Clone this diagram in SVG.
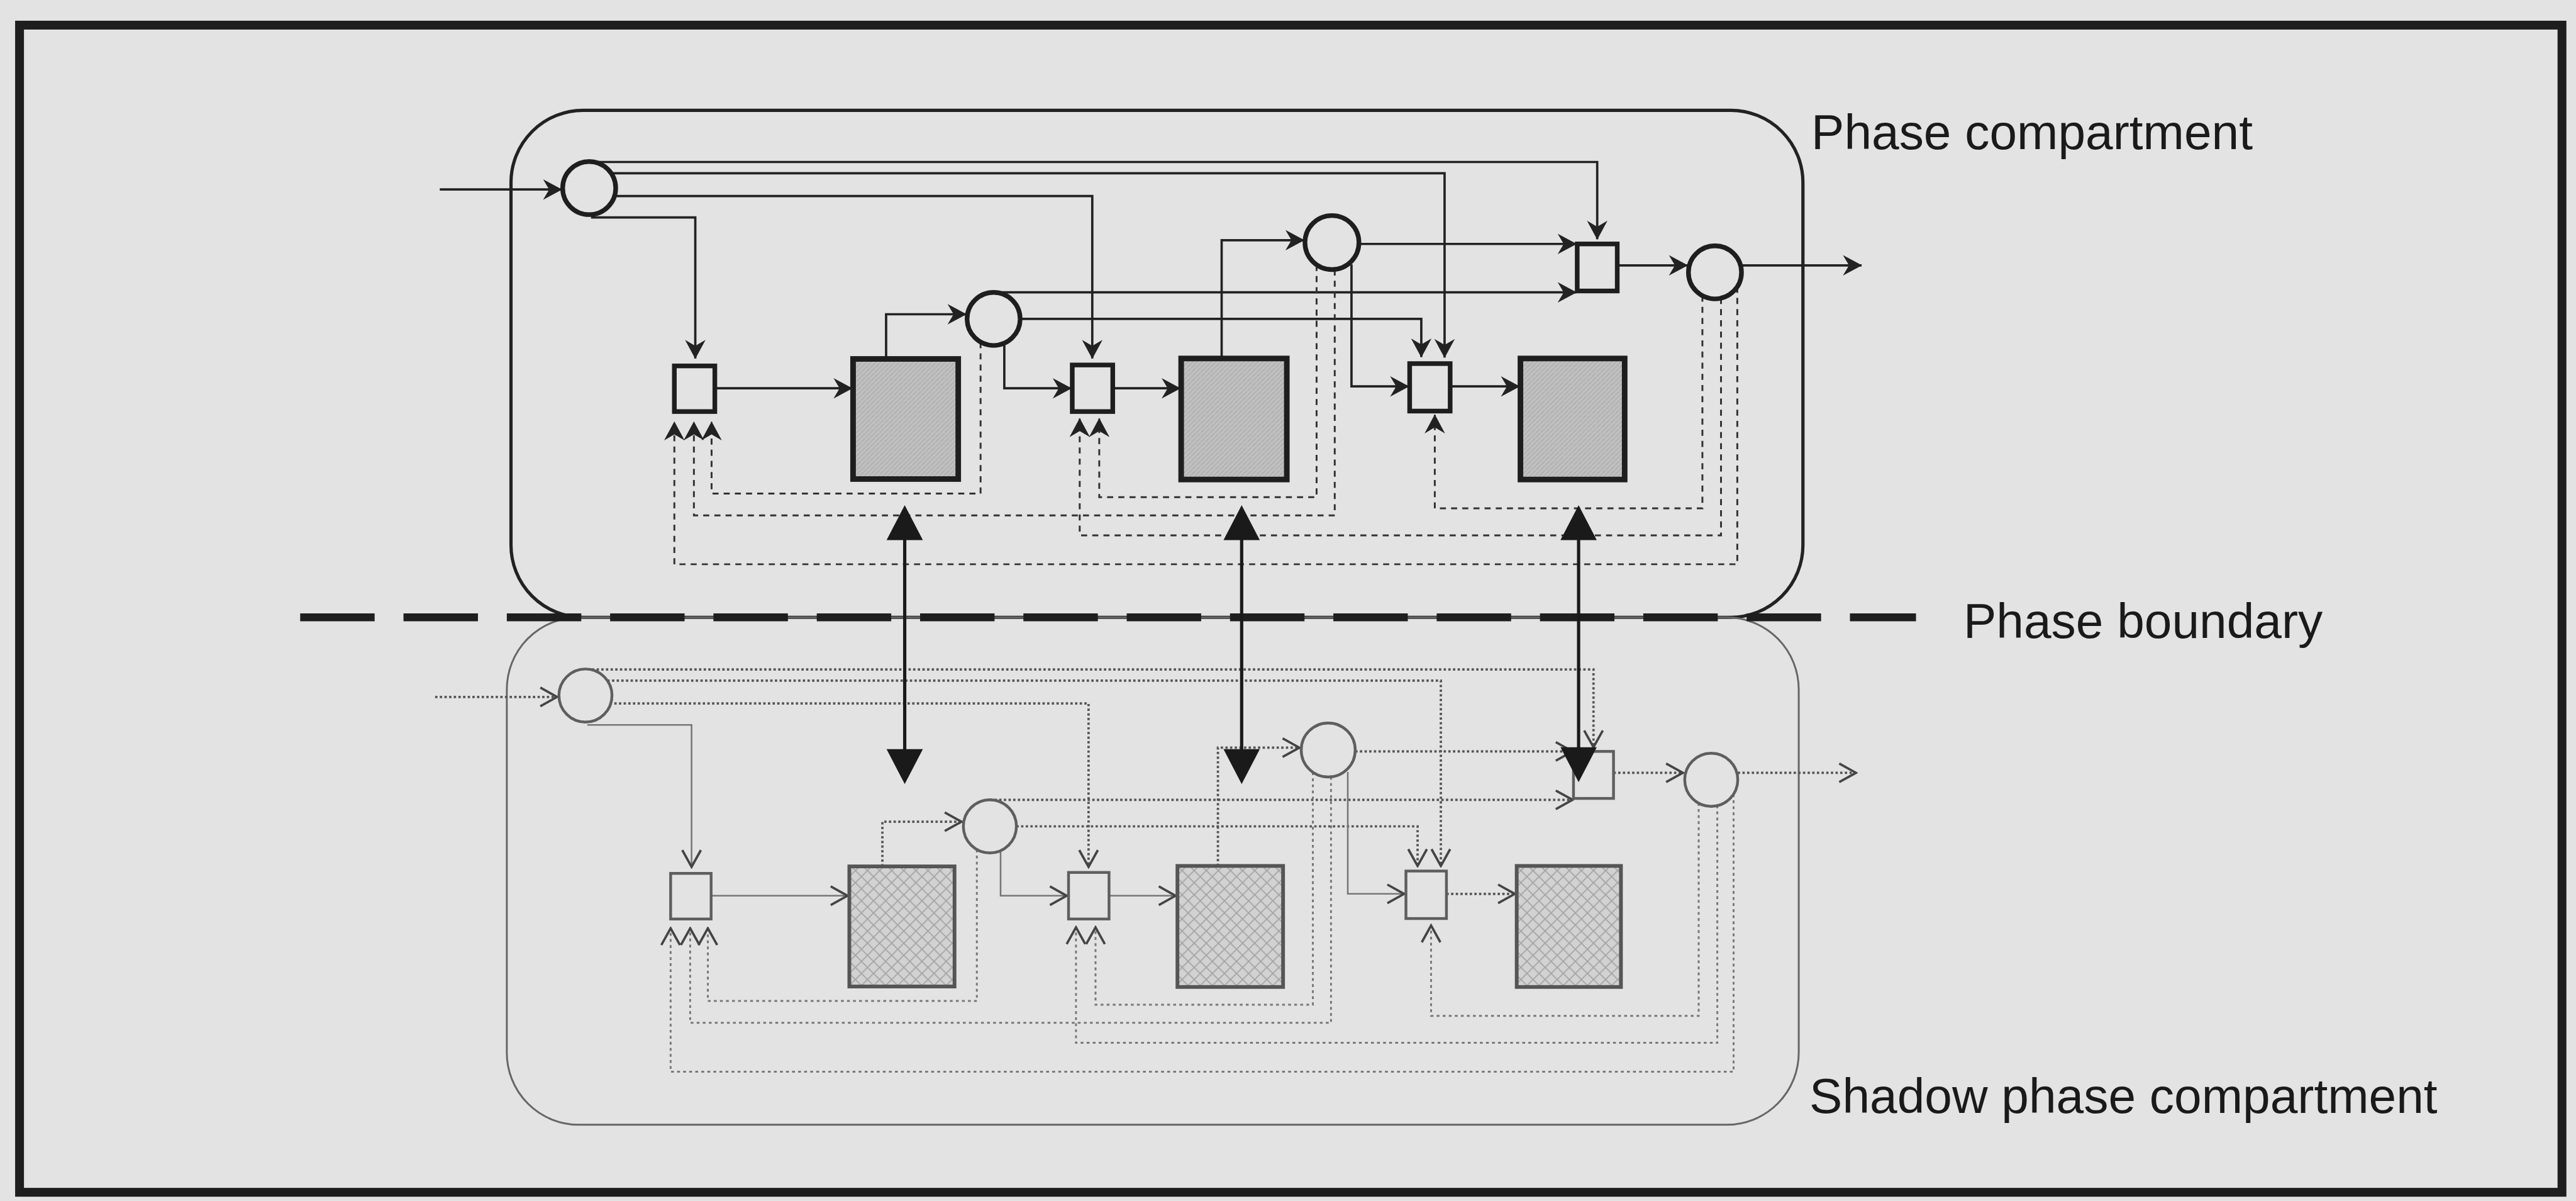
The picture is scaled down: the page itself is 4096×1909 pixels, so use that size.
<svg xmlns="http://www.w3.org/2000/svg" width="4096" height="1909" viewBox="0 0 4096 1909">
<defs>
<style>
.bg{fill:#e3e3e3}
.frame{fill:none;stroke:#1e1e1e;stroke-width:19}
.comp{fill:none;stroke:#222;stroke-width:7}
.scomp{fill:none;stroke:#666;stroke-width:4}
.bound{fill:none;stroke:#1e1e1e;stroke-width:17;stroke-dasharray:160 62}
.node{fill:none;stroke:#1e1e1e;stroke-width:10}
.shade{fill:url(#fine);stroke:#1e1e1e;stroke-width:12}
.snode{fill:none;stroke:#5e5e5e;stroke-width:6}
.sshade{fill:url(#hatch);stroke:#555;stroke-width:8}
.con{fill:none;stroke:#222;stroke-width:5;marker-end:url(#ah)}
.loop{fill:none;stroke:#333;stroke-width:4;stroke-dasharray:13 11;marker-end:url(#ah)}
.sd{fill:none;stroke:#555;stroke-width:5;stroke-dasharray:5 5;marker-end:url(#ahs)}
.ss{fill:none;stroke:#777;stroke-width:3.5;marker-end:url(#ahs)}
.sloop{fill:none;stroke:#777;stroke-width:4;stroke-dasharray:6 7;marker-end:url(#ahs)}
.big{fill:none;stroke:#1a1a1a;stroke-width:7}
.bighead{fill:#1a1a1a}
.lbl{font-family:"Liberation Sans",Arial,sans-serif;font-size:106px;fill:#1a1a1a}
</style>
<pattern id="fine" patternUnits="userSpaceOnUse" width="10" height="10">
<rect width="10" height="10" fill="#c0c0c0"/>
<path d="M0,10 L10,0" stroke="#adadad" stroke-width="2"/>
</pattern>
<pattern id="hatch" patternUnits="userSpaceOnUse" width="26" height="26">
<rect width="26" height="26" fill="#d2d2d2"/>
<path d="M0,0 L26,26 M26,0 L0,26" stroke="#a4a4a4" stroke-width="2.5"/>
</pattern>
<marker id="ah" viewBox="-44 -26 48 52" refX="0" refY="0" markerWidth="48" markerHeight="52" markerUnits="userSpaceOnUse" orient="auto">
<path d="M1,0 L-40,-22 L-27,0 L-40,22 Z" fill="#222"/>
</marker>
<marker id="ahs" viewBox="-44 -26 48 52" refX="0" refY="0" markerWidth="48" markerHeight="52" markerUnits="userSpaceOnUse" orient="auto">
<path d="M-36,-20 L0,0 L-36,20" fill="none" stroke="#444" stroke-width="5"/>
</marker>
</defs>
<rect class="bg" x="0" y="0" width="4096" height="1909"/>
<g transform="scale(0.74)">
<rect class="frame" x="42" y="54" width="5463" height="2507"/>

<!-- compartments -->
<g id="phase-compartment"><rect class="comp" x="1098" y="237" width="2776" height="1089" rx="155" ry="155"/></g>
<g id="shadow-compartment"><rect class="scomp" x="1089" y="1326" width="2776" height="1090" rx="155" ry="155"/></g>
<g id="phase-boundary"><line class="bound" x1="645" y1="1326" x2="4117" y2="1326"/></g>

<!-- shadow network -->
<g id="shadow-network" transform="translate(-8,1090)">
<g id="shadow-connectors">
<path class="sd" d="M943,407 H1205"/>
<path class="sd" d="M1280,348 H3432 V515"/>
<path class="sd" d="M1313,372 H3104 V770"/>
<path class="sd" d="M1318,421 H2347 V772"/>
<path class="ss" d="M1270,467 H1494 V772"/>
<path class="ss" d="M1536,834 H1829"/>
<path class="sd" d="M1904,771 V675 H2074"/>
<path class="sd" d="M2135,628 H3387"/>
<path class="sd" d="M2192,685 H3054 V770"/>
<path class="ss" d="M2158,740 V834 H2300"/>
<path class="ss" d="M2391,834 H2534"/>
<path class="sd" d="M2625,770 V516 H2800"/>
<path class="sd" d="M2920,524 H3387"/>
<path class="ss" d="M2904,568 V830 H3025"/>
<path class="sd" d="M3116,830 H3263"/>
<path class="sd" d="M3475,570 H3624"/>
<path class="sd" d="M3742,570 H3996"/>
<path class="sloop" d="M2107,735 V1060 H1529 V904"/>
<path class="sloop" d="M2868,579 V1107 H1491 V904"/>
<path class="sloop" d="M2829,569 V1068 H2362 V902"/>
<path class="sloop" d="M3658,635 V1092 H3083 V898"/>
<path class="sloop" d="M3698,640 V1150 H2320 V902"/>
<path class="sloop" d="M3733,616 V1212 H1449 V904"/>
</g>
<g id="s-c1"><circle class="snode" cx="1266" cy="404" r="57"/></g>
<g id="s-c2"><circle class="snode" cx="2135" cy="685" r="57"/></g>
<g id="s-c3"><circle class="snode" cx="2862" cy="521" r="58"/></g>
<g id="s-c4"><circle class="snode" cx="3685" cy="585" r="57"/></g>
<g id="s-b1"><rect class="snode" x="1449" y="786" width="87" height="98"/></g>
<g id="s-b2"><rect class="snode" x="2304" y="784" width="87" height="100"/></g>
<g id="s-b3"><rect class="snode" x="3029" y="781" width="87" height="102"/></g>
<g id="s-b4"><rect class="snode" x="3389" y="524" width="86" height="101"/></g>
<g id="s-s1"><rect class="sshade" x="1833" y="771" width="226" height="258"/></g>
<g id="s-s2"><rect class="sshade" x="2538" y="770" width="227" height="260"/></g>
<g id="s-s3"><rect class="sshade" x="3267" y="770" width="224" height="260"/></g>
</g>

<!-- phase network -->
<g id="connectors">
<path class="con" d="M945,407 H1207"/>
<path class="con" d="M1280,348 H3432 V514"/>
<path class="con" d="M1313,372 H3104 V768"/>
<path class="con" d="M1318,421 H2347 V770"/>
<path class="con" d="M1270,467 H1494 V770"/>
<path class="con" d="M1536,834 H1831"/>
<path class="con" d="M1904,771 V675 H2076"/>
<path class="con" d="M2135,628 H3387"/>
<path class="con" d="M2192,685 H3054 V767"/>
<path class="con" d="M2158,740 V834 H2302"/>
<path class="con" d="M2391,834 H2536"/>
<path class="con" d="M2625,770 V516 H2802"/>
<path class="con" d="M2920,524 H3387"/>
<path class="con" d="M2904,568 V830 H3027"/>
<path class="con" d="M3116,830 H3265"/>
<path class="con" d="M3475,570 H3626"/>
<path class="con" d="M3742,570 H4000"/>
<path class="loop" d="M2107,735 V1060 H1529 V906"/>
<path class="loop" d="M2868,579 V1107 H1491 V906"/>
<path class="loop" d="M2829,569 V1068 H2362 V899"/>
<path class="loop" d="M3658,635 V1092 H3083 V891"/>
<path class="loop" d="M3698,640 V1150 H2320 V899"/>
<path class="loop" d="M3733,616 V1212 H1449 V906"/>
</g>
<g id="c1"><circle class="node" cx="1266" cy="404" r="57"/></g>
<g id="c2"><circle class="node" cx="2135" cy="685" r="57"/></g>
<g id="c3"><circle class="node" cx="2862" cy="521" r="58"/></g>
<g id="c4"><circle class="node" cx="3685" cy="585" r="57"/></g>
<g id="b1"><rect class="node" x="1449" y="786" width="87" height="98"/></g>
<g id="b2"><rect class="node" x="2304" y="784" width="87" height="100"/></g>
<g id="b3"><rect class="node" x="3029" y="781" width="87" height="102"/></g>
<g id="b4"><rect class="node" x="3389" y="524" width="86" height="101"/></g>
<g id="s1"><rect class="shade" x="1833" y="771" width="226" height="258"/></g>
<g id="s2"><rect class="shade" x="2538" y="770" width="227" height="260"/></g>
<g id="s3"><rect class="shade" x="3267" y="770" width="224" height="260"/></g>

<!-- exchange arrows -->
<g id="exchange-arrows">
<g id="x1"><line class="big" x1="1944" y1="1155" x2="1944" y2="1614"/><polygon class="bighead" points="1944,1085 1905,1160 1983,1160"/><polygon class="bighead" points="1944,1684 1905,1609 1983,1609"/></g>
<g id="x2"><line class="big" x1="2668" y1="1155" x2="2668" y2="1614"/><polygon class="bighead" points="2668,1085 2629,1160 2707,1160"/><polygon class="bighead" points="2668,1684 2629,1609 2707,1609"/></g>
<g id="x3"><line class="big" x1="3392" y1="1155" x2="3392" y2="1610"/><polygon class="bighead" points="3392,1085 3353,1160 3431,1160"/><polygon class="bighead" points="3392,1680 3353,1605 3431,1605"/></g>
</g>

<!-- labels -->
<text class="lbl" x="3892" y="320">Phase compartment</text>
<text class="lbl" x="4219" y="1370">Phase boundary</text>
<text class="lbl" x="3888" y="2390">Shadow phase compartment</text>
</g>
</svg>
